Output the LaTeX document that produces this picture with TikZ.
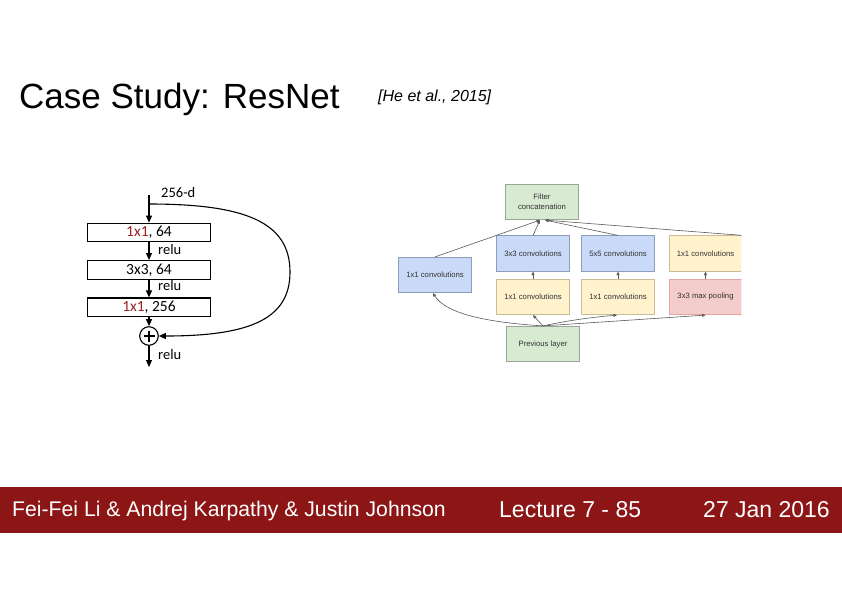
\documentclass[tikz,border=0pt]{standalone}
\usepackage{fontspec}
\setmainfont{Liberation Sans}
\newfontfamily\carlito{Carlito}
\usetikzlibrary{arrows.meta,calc}

\definecolor{barred}{RGB}{140,22,22}
\definecolor{resred}{RGB}{160,32,32}
\definecolor{gblue}{HTML}{C9DAF8}
\definecolor{gblueline}{HTML}{8D9DBA}
\definecolor{gyellow}{HTML}{FFF2CC}
\definecolor{gyellowline}{HTML}{C9BC95}
\definecolor{gpink}{HTML}{F4CCCC}
\definecolor{gpinkline}{HTML}{E3A5A5}
\definecolor{ggreen}{HTML}{D9EAD3}
\definecolor{ggreenline}{HTML}{97A893}
\definecolor{glink}{HTML}{5A5A5A}

\tikzset{
  % residual block
  resbox/.style={draw=black, line width=1.1pt, minimum width=123pt, minimum height=18.5pt,
    inner sep=0pt, font=\carlito\fontsize{15.5}{15.5}\selectfont},
  reslabel/.style={anchor=base west, inner sep=0pt, font=\carlito\fontsize{14.5}{14.5}\selectfont},
  resarrow/.style={line width=1.1pt, -{Triangle[length=7pt,width=6pt]}},
  % inception module
  incbox/.style={minimum width=73pt, minimum height=35.5pt, inner sep=0pt, line width=0.7pt,
    align=center, text=black!80, font=\fontsize{7.7}{10}\selectfont},
  bluebox/.style={incbox, fill=gblue, draw=gblueline},
  yellowbox/.style={incbox, fill=gyellow, draw=gyellowline},
  pinkbox/.style={incbox, fill=gpink, draw=gpinkline},
  greenbox/.style={incbox, fill=ggreen, draw=ggreenline},
  inclink/.style={draw=glink, line width=0.6pt, -{Triangle[length=3.5pt,width=3pt]}},
}

\begin{document}
\begin{tikzpicture}[x=1pt,y=-1pt]
\useasboundingbox (0,0) rectangle (842,595);
\fill[white] (0,0) rectangle (842,595);

% heading
\node[anchor=base west, inner sep=0pt, font=\fontsize{35}{35}\selectfont] (title) at (19,108) {Case Study: ResNet};
\node[anchor=base west, inner sep=0pt, font=\itshape\fontsize{16}{16}\selectfont] (cite) at (378,101) {[He et al., 2015]};

% ---------------- residual bottleneck block ----------------
\coordinate (in) at (149,195);
\coordinate (split) at (149,204);
\node[resbox] (b1) at (149,232.5) {\textcolor{resred}{1x1}, 64};
\node[resbox] (b2) at (149,269.8) {3x3, 64};
\node[resbox] (b3) at (149,307.2) {\textcolor{resred}{1x1}, 256};
\node[draw=black, line width=1.1pt, circle, minimum size=18.6pt, inner sep=0pt] (sum) at (149,336) {};
\draw[line width=1.1pt] ($(sum.center)+(-5.5,0)$) -- ($(sum.center)+(5.5,0)$);
\draw[line width=1.1pt] ($(sum.center)+(0,-5.5)$) -- ($(sum.center)+(0,5.5)$);
\coordinate (out) at (149,367);

\node[reslabel] (dim) at (161,197) {256-d};
\node[reslabel] (r1) at (158,254) {relu};
\node[reslabel] (r2) at (158,290) {relu};
\node[reslabel] (r3) at (158,359) {relu};

\draw[resarrow] (in) -- (b1.north);
\draw[resarrow] (b1.south) -- (b2.north);
\draw[resarrow] (b2.south) -- (b3.north);
\draw[resarrow] (b3.south) -- (sum.north);
\draw[resarrow] (sum.south) -- (out);
\draw[resarrow] (split) .. controls (245,204) and (290,222) .. (290,272)
                        .. controls (290,318) and (252,336) .. (sum.east);

% ---------------- inception module ----------------
\begin{scope}
\clip (380,170) rectangle (741.3,380);
\node[greenbox] (filt) at (542,202) {Filter\\concatenation};
\node[greenbox] (prev) at (543,344) {Previous layer};
\node[bluebox, minimum width=73.5pt] (c1) at (435,275) {1x1 convolutions};
\node[bluebox] (c2t) at (533,253.5) {3x3 convolutions};
\node[yellowbox] (c2b) at (533,297) {1x1 convolutions};
\node[bluebox] (c3t) at (618,253.5) {5x5 convolutions};
\node[yellowbox] (c3b) at (618,297) {1x1 convolutions};
\node[yellowbox] (c4t) at (705.5,253.5) {1x1 convolutions};
\node[pinkbox] (c4b) at (705.5,297) {3x3 max pooling};

% branches into the concatenation
\draw[inclink] (c1.north) -- ([xshift=-2pt]filt.south);
\draw[inclink] (c2t.north) -- ([xshift=-2pt]filt.south);
\draw[inclink] (c3t.north) -- ([xshift=3pt]filt.south);
\draw[inclink] (c4t.north east) -- ([xshift=3pt]filt.south);

% reductions feeding the larger filters
\draw[inclink] (c2b.north) -- (c2t.south);
\draw[inclink] (c3b.north) -- (c3t.south);
\draw[inclink] (c4b.north) -- (c4t.south);

% previous layer fanning out
\draw[inclink] (prev.north) .. controls (480,322) and (445,312) .. ([xshift=-2pt]c1.south);
\draw[inclink] (prev.north) -- (c2b.south);
\draw[inclink] (prev.north) .. controls (570,320) and (595,317) .. ([xshift=-1pt]c3b.south);
\draw[inclink] (prev.north) -- (c4b.south);
\end{scope}

% ---------------- footer ----------------
\fill[barred] (0,486.5) rectangle (842,533);
\node[anchor=base west, inner sep=0pt, text=white, font=\fontsize{21.2}{21.2}\selectfont] (authors) at (12,516) {Fei-Fei Li \& Andrej Karpathy \& Justin Johnson};
\node[anchor=base west, inner sep=0pt, text=white, font=\fontsize{23}{23}\selectfont] (lecture) at (499,517) {Lecture 7 - 85};
\node[anchor=base west, inner sep=0pt, text=white, font=\fontsize{23}{23}\selectfont] (date) at (703,517) {27 Jan 2016};
\end{tikzpicture}
\end{document}
